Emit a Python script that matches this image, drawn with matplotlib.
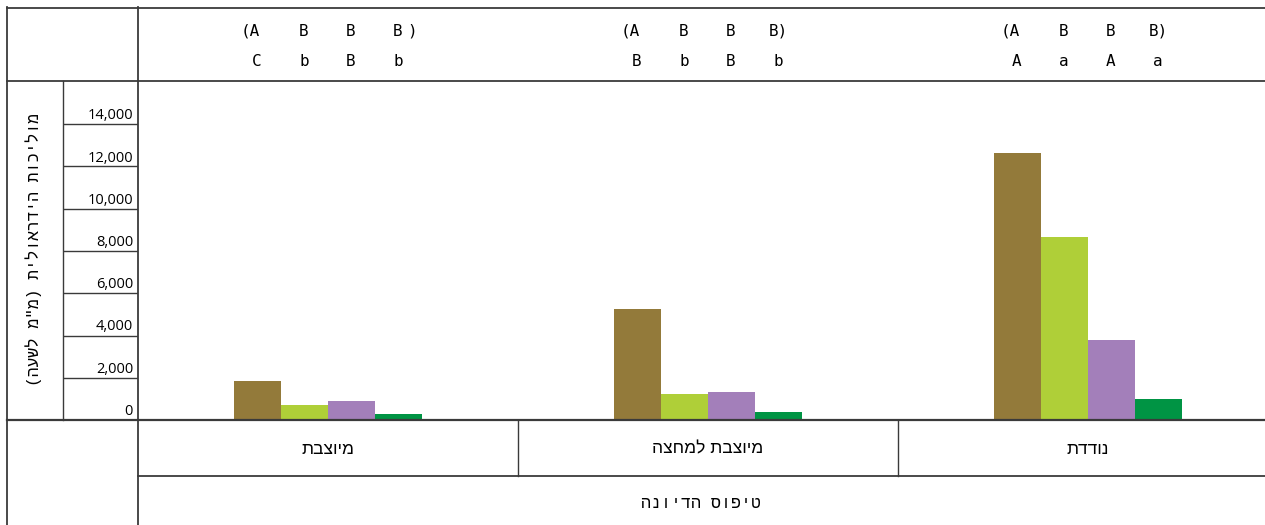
import matplotlib
matplotlib.use("Agg")
import matplotlib.pyplot as plt
import matplotlib.transforms as mtransforms
from matplotlib.lines import Line2D
import numpy as np

# ---------------- data ----------------
categories = ["מיוצבת", "מיוצבת למחצה", "נודדת"]
series_colors = ["#937A3A", "#AFCF38", "#A37FBA", "#009444"]
brown_vals = [1850, 5250, 12650]
lgreen_vals = [710, 1230, 8660]
purple_vals = [900, 1325, 3790]
green_vals = [280, 380, 990]
series_values = [brown_vals, lgreen_vals, purple_vals, green_vals]
row1_letters = [["A", "B", "B", "B"], ["A", "B", "B", "B"], ["A", "B", "B", "B"]]
row2_letters = [["C", "b", "B", "b"], ["B", "b", "B", "b"], ["A", "a", "A", "a"]]
yticks = [0, 2000, 4000, 6000, 8000, 10000, 12000, 14000]
ytick_labels = ["0", "2,000", "4,000", "6,000", "8,000", "10,000", "12,000", "14,000"]
ylabel = 'מוליכות הידראולית (מ"מ לשעה)'
xlabel = "טיפוס הדיונה"


def vis(s):
    """Logical RTL Hebrew -> visual LTR order (simple, with bracket mirroring)."""
    r = s[::-1]
    return r.translate(str.maketrans("()", ")("))


W, H = 1265, 525
fig = plt.figure(figsize=(W / 100, H / 100), dpi=100)
fig.patch.set_facecolor("white")


def fx(x):
    return x / W


def fy(y):
    return 1 - y / H


LC = "#3a3a3a"
LW = 1.3
heb_mono = ["Liberation Mono", "DejaVu Sans"]
heb_sans = ["Liberation Sans", "DejaVu Sans"]
mono = ["DejaVu Sans Mono", "DejaVu Sans"]

# main axes: plot area from x=137.5 to right edge, y=82 to 420
left_px, top_px, bot_px = 137.5, 82, 420
ax = fig.add_axes([fx(left_px), fy(bot_px), 1 - fx(left_px), (bot_px - top_px) / H])
group_px = 380.0
ax.set_xlim(-0.5, -0.5 + (W - left_px) / group_px)
ax.set_ylim(0, 16000)
for sp in ax.spines.values():
    sp.set_visible(False)
ax.set_xticks([])
ax.set_yticks([])
ax.patch.set_alpha(0)

n = len(series_values)
bw = 47 / group_px
x = np.arange(len(categories))
for i, (vals, col) in enumerate(zip(series_values, series_colors)):
    ax.bar(x + (i - (n - 1) / 2) * bw, vals, width=bw, color=col, zorder=2)

# tick-label column axes (x 63 -> 137.5)
tax = fig.add_axes([fx(63), fy(bot_px), fx(137.5) - fx(63), (bot_px - top_px) / H], sharey=ax)
tax.set_xlim(0, 1)
tax.set_ylim(0, 16000)
tax.axis("off")
for v, lab in zip(yticks, ytick_labels):
    if v > 0:
        tax.plot([0, 1], [v, v], color=LC, lw=1.0, solid_capstyle="butt")
    tax.text(0.94, v, lab, ha="right", va="baseline", fontsize=10.5,
             family=["Open Sans", "DejaVu Sans"],
             transform=tax.transData + mtransforms.ScaledTranslation(0, 5 / 100, fig.dpi_scale_trans))

# y title
fig.text(fx(34), fy(249), vis(ylabel), rotation=90, ha="center", va="center",
         fontsize=11.7, family=heb_mono)

# structural lines
def hline(y, x0, x1, lw=LW):
    fig.add_artist(Line2D([fx(x0), fx(x1)], [fy(y), fy(y)], color=LC, lw=lw))


def vline(x0, y0, y1, lw=LW):
    fig.add_artist(Line2D([fx(x0), fx(x0)], [fy(y0), fy(y1)], color=LC, lw=lw))


hline(7.5, 7, W)
vline(7.5, 7, H)
vline(137.5, 7, H)
hline(81.5, 7, W)
vline(63, 81.5, 420, lw=1.0)
hline(420, 7, W, lw=1.6)
hline(475.5, 137.5, W)

# group boundary lines in category row
bt = mtransforms.blended_transform_factory(ax.transData, fig.transFigure)
for b in np.arange(0.5, len(categories) - 0.5, 1.0):
    fig.add_artist(Line2D([b, b], [fy(420), fy(475.5)], color=LC, lw=1.0, transform=bt))

# category labels
for xi, cat in zip(x, categories):
    ax.text(xi, fy(449), vis(cat), transform=bt, ha="center", va="center",
            fontsize=12.5, family=heb_sans)

# x title
fig.text((fx(137.5) + 1) / 2, fy(503), vis(xlabel), ha="center", va="center",
         fontsize=12, family=heb_mono)

# letters above bars
for g in range(len(categories)):
    for i in range(n):
        xc = x[g] + (i - (n - 1) / 2) * bw
        ax.text(xc, fy(61), row2_letters[g][i], transform=bt, ha="center", va="center",
                fontsize=11.5, family=mono)
        if i == 0:
            off = mtransforms.ScaledTranslation(-16 / 100, 0, fig.dpi_scale_trans)
            ax.text(xc, fy(31), "(" + row1_letters[g][i], transform=bt + off, ha="left",
                    va="center", fontsize=11.5, family=mono)
        elif i == n - 1 and g > 0:
            off = mtransforms.ScaledTranslation(-9 / 100, 0, fig.dpi_scale_trans)
            ax.text(xc, fy(31), row1_letters[g][i] + ")", transform=bt + off,
                    ha="left", va="center", fontsize=11.5, family=mono)
        else:
            ax.text(xc, fy(31), row1_letters[g][i], transform=bt, ha="center", va="center",
                    fontsize=11.5, family=mono)
            if i == n - 1:
                off = mtransforms.ScaledTranslation(14 / 100, 0, fig.dpi_scale_trans)
                ax.text(xc, fy(31), ")", transform=bt + off, ha="center", va="center",
                        fontsize=11.5, family=mono)

fig.savefig("out.png", dpi=100, facecolor="white")
